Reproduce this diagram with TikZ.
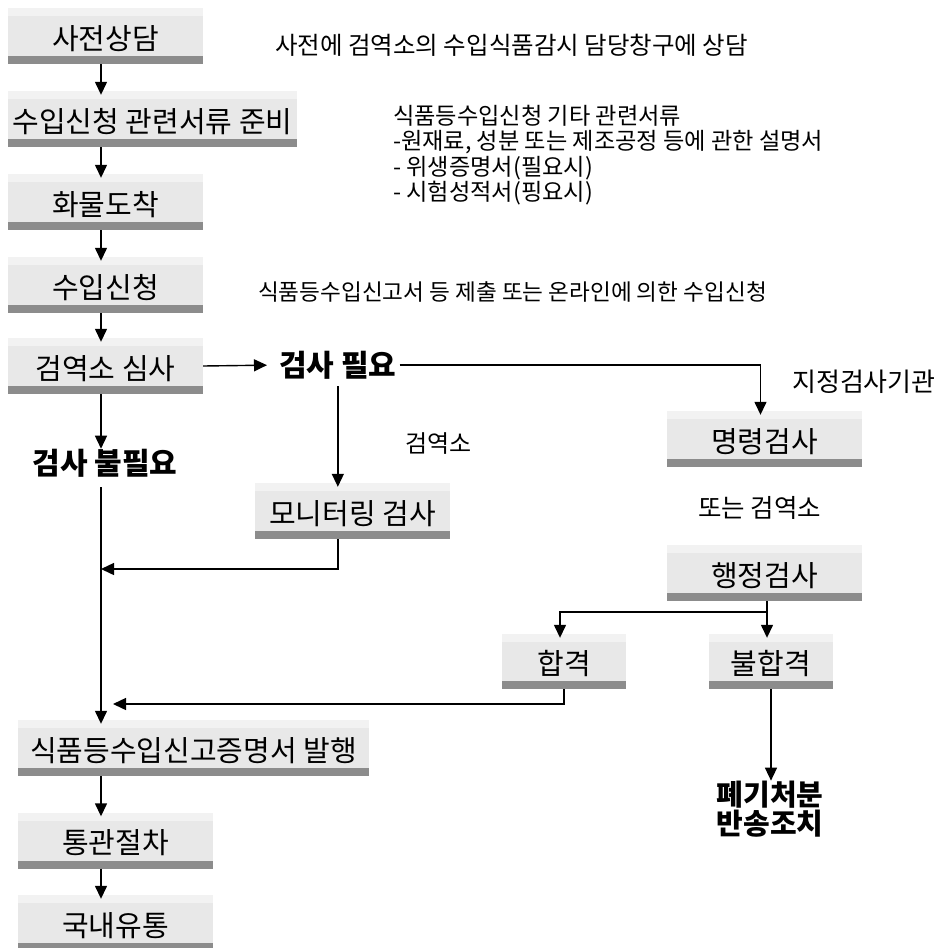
\documentclass[tikz,border=0pt]{standalone}
\usepackage{fontspec}
\setmainfont{Noto Sans CJK KR}
\usetikzlibrary{arrows.meta,calc}
\definecolor{boxmid}{HTML}{E8E8E8}
\definecolor{boxtop}{HTML}{F2F2F2}
\definecolor{boxbot}{HTML}{8C8C8C}
\begin{document}
\begin{tikzpicture}[x=1pt,y=-1pt,
  box/.style={minimum height=56pt, inner sep=0pt, fill=boxmid,
    font=\fontsize{29}{34}\selectfont, text height=27pt, text depth=1pt,
    path picture={
      \fill[boxtop] (path picture bounding box.north west) rectangle ([yshift=-8pt]path picture bounding box.north east);
      \fill[boxbot] ([yshift=8pt]path picture bounding box.south west) rectangle (path picture bounding box.south east);
    }},
  lbl/.style={font=\fontsize{24}{25.5}\selectfont, inner sep=0pt, anchor=west},
  bt/.style={font=\fontsize{30}{29}\selectfont\bfseries, inner sep=0pt},
  link/.style={line width=1.4pt},
  arr/.style={link, -{Triangle[width=12pt,length=13pt]}, shorten >=-4pt}
]
\useasboundingbox (0,0) rectangle (937,948);

% boxes
\node[box, minimum width=195pt] (s1) at (105.5,36) {사전상담};
\node[box, minimum width=289pt] (s2) at (152.5,119) {수입신청 관련서류 준비};
\node[box, minimum width=195pt] (s3) at (105.5,202) {화물도착};
\node[box, minimum width=195pt] (s4) at (105.5,285) {수입신청};
\node[box, minimum width=195pt] (s5) at (105.5,366) {검역소 심사};
\node[box, minimum width=195pt] (m1) at (764.5,439) {명령검사};
\node[box, minimum width=195pt] (mon) at (352.5,511) {모니터링 검사};
\node[box, minimum width=195pt] (adm) at (764.5,573) {행정검사};
\node[box, minimum width=124pt, minimum height=55pt] (pass) at (564,661.5) {합격};
\node[box, minimum width=124pt, minimum height=55pt] (fail) at (771,661.5) {불합격};
\node[box, minimum width=351pt] (cert) at (193.5,748) {식품등수입신고증명서 발행};
\node[box, minimum width=195pt] (cust) at (115.5,840.5) {통관절차};
\node[box, minimum width=195pt] (dom) at (115.5,923) {국내유통};

% labels
\node[lbl, font=\fontsize{24.5}{25.5}\selectfont] (n1) at (275,45) {사전에 검역소의 수입식품감시 담당창구에 상담};
\node[lbl, align=left, font=\fontsize{23.2}{25.5}\selectfont] (n2) at (393,155) {식품등수입신청 기타 관련서류\\-원재료, 성분 또는 제조공정 등에 관한 설명서\\- 위생증명서(필요시)\\- 시험성적서(핑요시)};
\node[lbl, font=\fontsize{22.6}{25.5}\selectfont] (n3) at (258,292) {식품등수입신고서 등 제출 또는 온라인에 의한 수입신청};
\node[lbl, font=\fontsize{26}{28}\selectfont] (n4) at (792,382) {지정검사기관};
\node[lbl] (n5) at (405,444) {검역소};
\node[lbl, font=\fontsize{25.5}{28}\selectfont] (n6) at (698,508) {또는 검역소};

\node[bt, anchor=west] (need) at (279,365) {검사 필요};
\node[bt] (notneed) at (105,463) {검사 불필요};
\node[bt, align=center, font=\fontsize{29}{29}\selectfont\bfseries] (disp) at (770,809) {폐기처분\\반송조치};

% connectors
\coordinate (sp) at (101,0);
\coordinate (j1) at (101,569);
\coordinate (j2) at (113,704);
\coordinate (br) at (767,612);

\draw[arr] (s1.south -| sp) -- (s2.north -| sp);
\draw[arr] (s2.south -| sp) -- (s3.north -| sp);
\draw[arr] (s3.south -| sp) -- (s4.north -| sp);
\draw[arr] (s4.south -| sp) -- (s5.north -| sp);
\draw[arr, shorten >=12pt] (s5.east) -- (need.west);
\draw[arr] ([xshift=3pt]need.east) -| ([xshift=-4pt]m1.north);
\draw[arr, shorten <=7pt] (need.south) -- (need.south |- mon.north);
\draw[arr, shorten >=0pt] (mon.south -| need.south) |- (j1);
\draw[arr, shorten >=0pt] (s5.south -| sp) -- (notneed.north -| sp);
\draw[arr, shorten <=10pt] (notneed.south -| sp) -- (cert.north -| sp);
\draw[link] (adm.south -| br) -- (br);
\draw[arr] (br) -| ([xshift=-4pt]pass.north);
\draw[arr] (br) -- (fail.north -| br);
\draw[arr, shorten >=0pt] (pass.south) |- (j2);
\draw[arr, shorten >=0pt] (fail.south) -- (fail.south |- disp.north);
\draw[arr] (cert.south -| sp) -- (cust.north -| sp);
\draw[arr] (cust.south -| sp) -- (dom.north -| sp);
\end{tikzpicture}
\end{document}
